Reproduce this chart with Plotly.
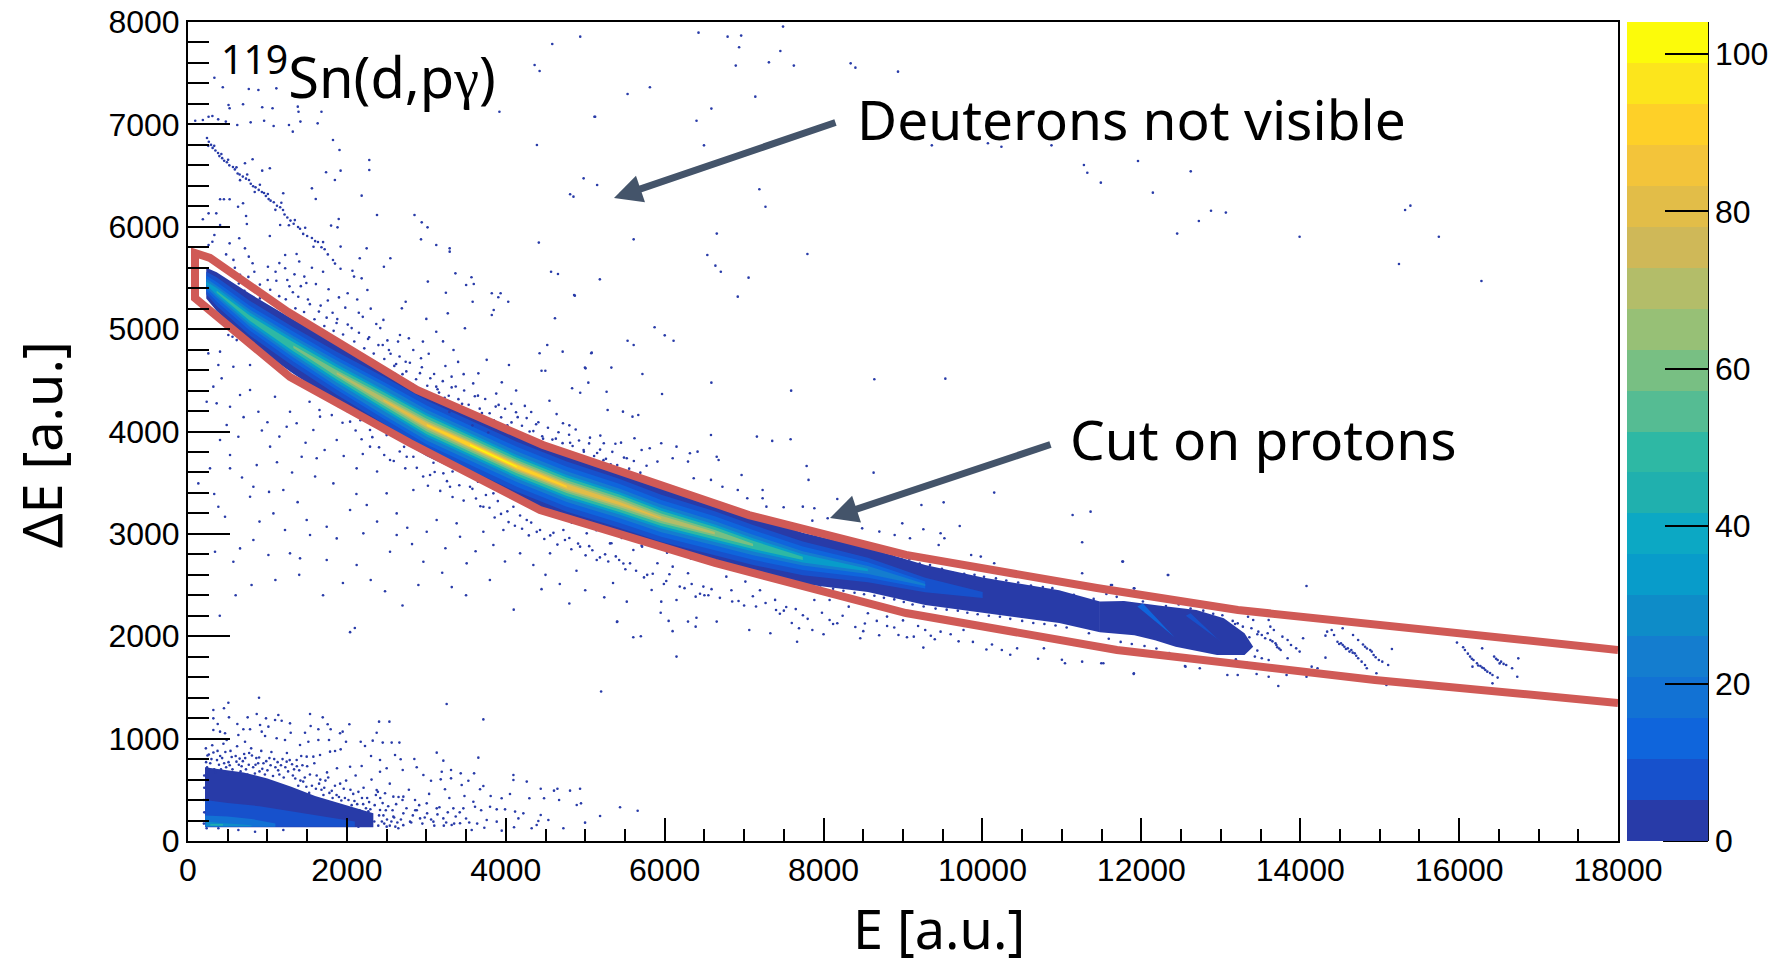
import plotly.graph_objects as go

# ---- palette (20 colour levels of the z scale)
bird = ["#283ba8","#1751cc","#0f65dc","#1272d4","#147dcf","#0e8cc8","#089cca","#0ca8c4","#20b0ae","#2eb8a4",
        "#55bc93","#78bf83","#97c076","#b3bd69","#cfb858","#e2bd48","#f3c43a","#fed028","#fce51c","#fcfb0a"]
z_max = 104.06
z_ticks = [0, 20, 40, 60, 80, 100]

# ---- proton cut polygon
cut_E  = [18000,13216,11441,9037,7061,5815,4468,2882,1259,277,88,88,1284,2794,4431,6633,9037,11693,14940,18000]
cut_dE = [1866,2256,2471,2794,3184,3507,3868,4405,5167,5695,5744,5304,4532,3888,3233,2716,2227,1866,1573,1348]

# ---- proton band: ridge and half-widths of each colour level
ridge_E  = [230,361,781,1326,1872,2459,3005,3550,4138,4767,5427,5957,6631,7113,7739,8558,9280,10003,10966,11479]
ridge_dE = [5450,5366,5105,4828,4568,4307,4063,3868,3656,3461,3299,3152,3006,2892,2761,2647,2501,2403,2289,2190]
hw_dark   = [150,190,240,265,285,300,305,310,315,320,315,310,300,285,250,215,195,170,160,150]
hw_blue1  = [110,140,170,190,210,230,240,240,245,245,240,230,215,195,165,120,70,30,0,0]
hw_blue2  = [75,95,120,145,160,180,190,190,195,195,190,180,165,145,115,75,35,0,0,0]
hw_blue3  = [45,60,85,105,125,145,150,150,150,150,145,135,120,100,70,40,10,0,0,0]
hw_blue4  = [15,35,55,75,90,105,115,115,115,115,110,100,85,65,40,12,0,0,0,0]
hw_teal   = [0,10,25,45,60,78,90,90,90,90,85,75,60,40,15,0,0,0,0,0]
hw_green  = [0,0,0,12,30,50,62,65,65,62,58,48,32,12,0,0,0,0,0,0]
hw_lgreen = [0,0,0,0,10,26,40,45,45,42,36,26,12,0,0,0,0,0,0,0]
hw_khaki  = [0,0,0,0,0,8,22,30,30,25,16,6,0,0,0,0,0,0,0,0]
hw_orange = [0,0,0,0,0,0,10,20,18,10,0,0,0,0,0,0,0,0,0,0]
hw_yellow = [0,0,0,0,0,0,0,8,5,0,0,0,0,0,0,0,0,0,0,0]
band_levels = [(hw_dark,bird[0]),(hw_blue1,bird[1]),(hw_blue2,bird[2]),(hw_blue3,bird[4]),(hw_blue4,bird[6]),
               (hw_teal,bird[9]),(hw_green,bird[11]),(hw_lgreen,bird[13]),(hw_khaki,bird[15]),(hw_orange,bird[17]),(hw_yellow,bird[19])]

# ---- end of the band, E > 11479
tail_E  = [11479,11782,12216,12693,13039,13299,13408,13299,12953,12432,12172,11912,11479]
tail_dE = [2340,2345,2300,2257,2175,2029,1898,1817,1817,1898,1960,2010,2040]
streak_E  = [11950,12020,12330,12420,11950]
streak_dE = [2290,2320,2060,1990,2290]
streak2_E  = [12560,12620,12950,13020,12560]
streak2_dE = [2200,2225,1980,1940,2200]

# ---- low-energy blob
blob_E0 = [214,400,700,1000,1300,1600,2000,2333]
blob_T0 = [720,700,670,610,530,440,350,270]
blob_E1 = [214,500,900,1300,1700,2100]
blob_T1 = [400,370,340,290,235,190]
blob_E2 = [214,500,800,1100]
blob_T2 = [250,240,215,170]
blob_E3 = [230,400,600,800]
blob_T3 = [190,175,165,155]
blob_E4 = [280,440]
blob_T4 = [165,165]
blob_levels = [(blob_E0,blob_T0,134,bird[0]),(blob_E1,blob_T1,138,bird[1]),(blob_E2,blob_T2,140,bird[3]),
               (blob_E3,blob_T3,145,bird[5]),(blob_E4,blob_T4,150,bird[8])]

# ---- individual counts
sparse_top = [(4937,7857),(6426,7896),(6792,7857),(6963,7867),(7490,7955),(6937,7753),(7456,7717),(6895,7574),(7312,7606),
 (7626,7574),(8341,7596),(8401,7554),(8937,7515),(5814,7362),(5533,7297),(7141,7271),(6588,7154),(5116,7075),(6401,7036),
 (6495,6795),(9363,6795),(10069,6815),(10239,6782),(10869,6795),(11277,6603),(11958,6642),(11320,6528),(12622,6541),
 (11490,6431),(12145,6333),(4980,6473),(5150,6408),(4810,6317),(4852,6294),(7192,6366),(7269,6196),(12877,6157),(13064,6138),
 (12724,6056),(12451,5933),(13992,5903),(15387,6206),(15320,6164),(15745,5903),(15243,5636),(16281,5470),(6656,5933),
 (5610,5877),(6537,5724),(7797,5734),(6639,5620),(6707,5561),(7056,5503),(5184,5486),(4869,5327),(6920,5317),(5873,5018),
 (6001,4939),(6112,4887),(5533,4887),(5610,4845),(4716,4780),(5082,4770),(5329,4624),(4997,4624),(5720,4562),(5039,4477),
 (6588,4477),(8639,4510),(9533,4516),(4835,4422),(5269,4389),(4937,4379),(5967,4366),(7592,4399)]

deuteron_line = [(239,6867),(262,6830),(290,6800),(310,6770),(345,6745),(378,6720),(395,6690),(430,6670),(455,6645),(490,6630),
 (520,6600),(566,6584),(590,6560),(625,6520),(650,6510),(690,6490),(730,6470),(768,6457),(790,6420),(820,6395),(850,6385),
 (890,6360),(930,6340),(957,6330),(980,6300),(1015,6270),(1040,6255),(1080,6240),(1120,6205),(1160,6190),(1196,6164),
 (1215,6120),(1250,6090),(1290,6060),(1330,6030),(1385,5998),(1410,5980),(1450,5930),(1500,5910),(1560,5890),(1600,5860),
 (1636,5851),(1680,5800),(1720,5780),(1760,5730),(1825,5675),(1850,5640),(1920,5590),(2070,5570),
 (255,6790),(330,6790),(420,6710),(505,6655),(610,6580),(655,6455),(745,6510),(840,6340),(905,6410),(1005,6320),(1100,6165),
 (1175,6235),(1270,6015),(1345,6065),(1475,5990),(1580,5805),(1700,5850)]

sparse_upper = [(4585,7785),(4363,7580),(4426,7521),(332,7456),(438,7362),(765,7346),(886,7336),(1112,7352),(510,7189),(693,7196),
 (524,7157),(934,7167),(1382,7173),(1064,7157),(1391,7124),(1680,7124),(3920,7124),(5125,7075),(91,7036),(187,7043),(259,7075),
 (307,7082),(380,7049),(476,7027),(620,6994),(789,7020),(958,7036),(1078,6984),(1271,6994),(1415,7027),(1632,7010),(1319,6929),
 (1825,6847),(1907,6750),(4392,6799),(2282,6652),(1921,6548),(2282,6554),(1738,6532),(1849,6457),(813,6659),(717,6620),(934,6548),
 (1030,6571),(1199,6327),(1560,6375),(1608,6271),(2186,6304),(404,6268),(452,6268),(524,6268),(693,6229),(630,6196),(259,6131),
 (356,6131),(187,6073),(731,6105),(741,6027),(404,6017),(2379,6115),(2851,6115),(1897,6076),(1801,6011),(1882,5994),(2942,6043),
 (3015,5994),(1160,6017),(1030,5910),(332,5919),(307,5854),(2933,5877),(3125,5822),(3294,5789),(3294,5757),(4416,5845),(1921,5806),
 (2249,5789),(524,5838),(645,5887),(717,5789),(259,5822),(1223,5724),(1367,5734),(2162,5692),(2547,5692),(2466,5610),(765,5708),
 (572,5676),(813,5643),(1006,5610),(1102,5561),(1223,5594),(1464,5513),(3366,5545),(3568,5506),(3501,5431),(3597,5441),(3019,5464),
 (2090,5513),(2186,5496),(4570,5561),(4657,5539),(2258,5382),(3246,5356),(3824,5350),(3935,5350),(3906,5311),(3583,5268),(4031,5268),
 (3848,5187),(3824,5138),(2740,5268),(2692,5203),(3270,5154),(4619,5106),(4860,5333),(2668,4943),(3125,4975),(3486,5008),(2644,4878),
 (2957,4878),(2451,4845),(2836,4796),(3342,4796),(4522,4845),(4426,4764),(5076,4764),(2933,4715),(2740,4682),(4040,4650),(5004,4617),
 (4450,4594),(4498,4594),(3655,4568),(3318,4536),(3125,4438),
 (1400,5660),(1560,5600),(1700,5560),(1250,5480),(1420,5420),(1320,5360),(1610,5440),(1770,5390),(1900,5310),(1510,5290),(1670,5230),
 (1820,5160),(1980,5210),(2130,5290),(2200,5120),(2370,5050),(2060,5010),(1870,5060),(2280,4920),(2420,5010),(2510,4890),(2550,4760),
 (2620,4660),(2700,4560),(2920,4570),(2810,4460),(3050,4520),(3160,4380),(3230,4330),(3370,4440),(3450,4270),(3520,4210),(3650,4350),
 (3700,4180),(3850,4110),(3910,4260),(4020,4060),(4150,4140),(4240,4250),(4300,4000),(4410,4090),(4550,4300),(4630,3930),(4720,4080),
 (4810,3890),(4880,4020),(4980,3820),(5060,3940),(5150,3790),(5230,3720),(3000,5100),(3210,4880),(3400,4680),(3760,4700),(3950,4480),
 (4130,4400),(2880,4390),(3090,4290),(3290,4190),(3580,4060),(3780,3990),(4470,3930),(5320,3680),(5420,3640),
 (1035,5385),(1112,5472),(1148,5322),(1231,5291),(1277,5418),(1352,5203),(1388,5316),(1461,5168),(1534,5244),(1592,5097),(1648,5171),
 (1716,5031),(1745,5112),(1833,4983),(1879,5098),(1952,4947),(2011,5044),(2093,4879),(2152,4965),(2219,4812),(2266,4903),(2338,4761),
 (2397,4844),(2471,4708),(2529,4796),(2597,4641),(2663,4732),(2748,4587),(2793,4671),(2871,4511),(2944,4627),(3012,4447),(3098,4561),
 (3141,4412),(3207,4492),(3282,4349),(3319,4431),(3404,4316),(3476,4401),(3533,4262),(3611,4345),(3672,4223),(3741,4318),(3797,4178),
 (3873,4243),(3942,4138),(3991,4222),(4072,4089),(4129,4188),(4204,4056),(4263,4131),(4347,4004),(4382,4071),(4459,3954),(4531,4037),
 (4587,3921),(4663,3992),(4715,3886),(4797,3968),(4841,3859),(4922,3912),(4983,3802),(5049,3884),(5112,3761),(5187,3823),(5261,3733),
 (5341,3801),(5403,3672),(5488,3745),(5553,3637),(5612,3712),(5694,3598),(5772,3665),
 (760,5510),(835,5560),(905,5435),(1003,5480),(710,5375),(655,5530),(590,5600),(480,5730),(420,5640),(940,5330),(1075,5260),(1180,5205),
 (1150,5645),(1340,5535),(1490,5450),(1760,5280),(2010,5350),(2150,5160),(2300,5200),(2460,5090),(2780,4910),(3030,4760),(3240,4640),
 (3470,4560),(3590,4470),(3880,4370),(4070,4270),(4320,4190),(4640,4170),(4800,4060),(5190,3960),(5380,3880),(5710,3820)]

sparse_lower = [(256,4763),(403,4780),(508,4942),(613,4893),(781,4649),(571,4633),(382,4649),(319,4438),(424,4519),(655,4356),(781,4405),
 (235,4291),(361,4275),(529,4242),(886,4193),(1095,4340),(1284,4193),(1368,4080),(1662,4145),(487,4063),(403,3917),(634,3949),(529,3770),
 (865,3672),(1033,3852),(1242,4047),(1578,4014),(1620,3738),(1431,3754),(1872,3917),(2040,4096),(2291,4014),(2291,3852),(2123,3640),
 (2543,3721),(2753,3754),(2837,3754),(1830,3493),(1200,3428),(823,3461),(529,3640),(277,3640),(130,3493),(466,3168),(382,3265),(781,3363),
 (1075,3200),(1494,3135),(1221,3038),(1746,3070),(2040,3233),(2250,3282),(2501,3396),(2627,3200),(2837,3428),(3047,3575),(3214,3591),
 (3298,3461),(3550,3461),(3844,3396),(4096,3265),(3130,3135),(3382,3103),(3718,3265),(4264,3135),(4431,3038),(4725,3038),(5019,3005),
 (5312,2907),(5606,2842),(3970,3038),(3718,3021),(3424,2972),(3005,3021),(2627,2989),(2207,3005),(1872,2956),(1536,2989),(1284,2810),
 (823,2940),(655,2858),(340,2826),(571,2728),(1012,2793),(1410,2761),(1746,2745),(2123,2696),(2543,2826),(2963,2728),(3508,2712),
 (3844,2891),(4180,2810),(4557,2810),(4347,2696),(4935,2875),(5145,2745),(5564,2712),
 (2040,2040),(2100,2080),(2700,2300),(2300,2550),(2900,2500),(3200,2620),(3500,2400),(3800,2550),(4100,2260),(4500,2600),(4800,2320),
 (5000,2450),(5350,2520),(5400,2140),(6050,2150),(6100,2050),(6400,2180),(6500,2400),(7000,2300),(7200,2450),(7500,2250),(7600,2130),
 (8000,2020),(8500,2050),(8800,2100),(5200,1460),(1400,2600),(1100,2550),(800,2500),(600,2400),(400,2200),(1700,2400),(5700,2000),
 (5330,2908),(5716,2875),(5427,2745),(5909,2713),(6101,2680),(6294,2615),(6487,2485),(6776,2582),(7016,2534),(6390,2387),(5836,2452),
 (5523,2338),(5957,2338),(6149,2354),(6294,2143),(6390,2094),(6655,2143),(5403,2143),(5605,1990),(6149,1801),(7065,2061),(7330,2029),
 (7402,2257),(7691,2078),(7859,2061),(7667,1947),(8076,2159),(8173,2127),(8462,1980),(8076,2354),(7884,2354),(8317,2289),(8558,2224),
 (8799,2192),(9136,2192),(9280,2061),(8943,2012),(9136,1996),(9256,1889),(9473,2045),(9762,2061),(10244,1866),(10437,1882),(10774,1882),
 (11039,1736),(11255,1752),(11496,1736),(11906,1638),(12556,1703),
 (3580,3440),(3750,3380),(3900,3320),(4020,3220),(4180,3180),(4320,3110),(4600,3010),(4800,2960),(5050,2880),(5250,2800),(5480,2710),
 (5780,2600),(6020,2540),(6250,2470),(6550,2400),(6850,2340),(7150,2290),(7450,2220),(7800,2170),(8120,2120),(8400,2090),(8700,2010),
 (9050,1990),(9400,1970),(9700,1950),(10050,1870),(10350,1820),(10700,1780),(11000,1770),
 (1530,4290),(1655,4210),(1710,4330),(1810,4160),(1945,4085),(2012,4195),(2110,4010),(2185,3925),(2320,3945),(2405,3845),(2470,3770),
 (2590,3712),(2665,3805),(2735,3640),(2880,3645),(2960,3560),(3020,3470),(3105,3605),(3175,3420),(3260,3515),(3330,3360),(3415,3475),
 (3470,3325),(3625,3345),(3680,3270),(3795,3255),(3860,3160),(3940,3195),(4035,3115),(4115,3080),(4205,3050),(4290,2985),(4390,3020),
 (4485,2950),(4560,2985),(4650,2895),(4745,2940),(4825,2850),(4910,2905),(5005,2790),(5090,2840),(5185,2770),(5290,2730),(5385,2780),
 (5505,2655),(5640,2640),(5740,2575),(5850,2610),(5990,2510),(6060,2605),(6190,2485),(6340,2510),(6445,2415),(6590,2460),(6695,2375),
 (6840,2450),(6930,2345),(7110,2390),(7270,2325),(7390,2355),(7530,2285),(7650,2265),(7740,2205),(7980,2230),(8240,2200),(8520,2125),
 (8670,2150),(8890,2085),(9000,2155),(9190,2100),(9350,2005),(9600,2020),(9880,1945),(10120,1920),
 (1000,4090),(1150,3950),(700,4140),(930,4010),(1120,3700),(1310,3600),(1480,3890),(1720,3820),(1960,3760),(2200,3780),(2380,3610),
 (1600,3560),(1380,3310),(1020,3410),(680,3550),(330,3390),(900,3120),(2120,3390),(2380,3120),(2760,3060),(2820,2900),(3240,2860),
 (3620,2830),(3990,2730),(4450,2460),(4680,2510),(4890,2640),(5240,2380),(3320,2480),(1950,2520),(2480,2440),(5950,2230)]

# flecks hugging the dark edge of the band, inside the cut
edge_upper = [(640,5445),(905,5300),(1115,5215),(1420,5055),(1660,4965),(1985,4815),(2240,4705),(2610,4560),(2830,4455),(3180,4300),
 (3390,4225),(3710,4125),(3980,4035),(4280,3935),(4550,3850),(4900,3745),(5210,3660),(5550,3585),(5780,3510),(6140,3425),(6420,3350),
 (6790,3270),(7020,3215),(7350,3115),(7620,3050),(7900,2985),(8210,2925),(8450,2885),(8720,2830),(8980,2755),(9210,2710),(9490,2660),
 (9770,2610),(10020,2580),(10300,2545),(10610,2495),(10880,2470),(11150,2405),(11400,2365),(7210,3175),(7480,3095),(7780,3025),
 (8060,2945),(8330,2910),(8610,2850),(8860,2790),(9080,2750),(9340,2695),(9620,2625),(9900,2600),(10170,2565),(10450,2525),(10760,2480)]
edge_lower = [(560,4925),(830,4800),(1060,4655),(1380,4510),(1620,4370),(1900,4245),(2170,4110),(2500,3965),(2720,3850),(3090,3695),
 (3330,3610),(3650,3510),(3890,3440),(4220,3295),(4480,3210),(4830,3110),(5140,3035),(5460,2960),(5710,2885),(6030,2815),(6330,2760),
 (6680,2690),(6960,2635),(7280,2565),(7560,2525),(7820,2490),(8120,2465),(8390,2425),(8640,2395),(8890,2360),(9120,2310),(9410,2270),
 (9690,2250),(9940,2215),(10220,2190),(10500,2150),(10780,2120),(11060,2085),(11340,2030),(7150,2600),(7410,2535),(7690,2500),(7960,2475),
 (8250,2445),(8510,2410),(8760,2375),(9010,2335),(9260,2290),(9550,2260),(9810,2230),(10080,2200),(10350,2170),(10640,2130),(10920,2105)]

sparse_right_upper = [(5282,4210),(5475,4194),(5595,4145),(5668,4161),(5620,3934),(6583,3966),(7161,3950),(7354,3908),(7585,3924),(5234,3885),
 (5451,3891),(5812,3836),(5957,3885),(6149,3852),(6318,3787),(6414,3803),(6655,3754),(5523,3738),(5909,3706),(6101,3738),(6294,3706),
 (6679,3722),(7787,3663),(7811,3527),(6968,3575),(6366,3543),(6583,3527),(6727,3461),(7233,3429),(6920,3429),(7040,3348),(7233,3348),
 (7281,3266),(7498,3260),(7739,3266),(7884,3250),(8173,3341),(8630,3598),(10148,3403),(9232,3282),(9512,3308),(8052,3152),(7859,3129),
 (8991,3103),(9256,3045),(9714,3077),(8486,3054),(8702,3022),(8895,2989),(9088,2957),(9473,3006),(9521,2957),(9449,2892),(9858,2794),
 (9979,2778),(10148,2713),(11135,3185),(11361,3217),(11255,2918),(11761,2729),(11255,2615),(12339,2599),(11617,2501),(11906,2468)]

sparse_blob = [(319,1280),(453,1296),(508,1351),(894,1400),(3256,1338),(3718,1188),(319,1198),(516,1208),(751,1208),(865,1241),(982,1198),
 (1137,1231),(1096,1182),(1179,1175),(1536,1241),(1696,1208),(1284,1149),(907,1133),(374,1143),(621,1143),(1012,1117),(1544,1123),(1758,1140),
 (2031,1140),(2405,1166),(2535,1166),(1641,1091),(1796,1091),(697,1091),(781,1091),(928,1068),(1293,1058),(1473,1058),(1914,1052),(1947,1068),
 (2375,1058),(970,1026),(319,1084),(403,1068),(466,1052),(634,1035),(1515,970),(1641,987),(1775,987),(1989,970),(2174,970),(2228,928),(2325,980),
 (2451,961),(2564,961),(2661,961),(1221,987),(1410,938),(1116,1003),(718,970),(487,987),(1922,895),(3131,863),(2606,840),(2304,830),(3655,814),
 (2849,801),(2677,798),(2417,791),(3214,785),(1851,879),(1788,873),(1662,840),(1578,824),(1494,824),(1368,791),(1242,775),(2040,726),(2186,733),
 (2501,710),(2879,720),(3311,694),(3194,677),(3601,661),(3433,661),(4096,645),(4096,596),(4264,580),(2417,677),(2703,694),(2963,645),(3059,589),
 (3181,602),(3311,612),(3529,589),(3718,537),(3445,547),(3676,505),(4440,511),(4650,511),(4935,511),(4809,492),(4607,492),(3235,505),(4053,459),
 (3810,440),(3948,417),(4482,417),(4297,417),(4671,400),(4893,352),(4947,368),(5438,329),(5660,296),(5187,244),(4440,254),(4221,270),(4117,287),
 (4536,205),(4410,195),(4159,221),(4104,134),(4389,156),(4326,124),(4725,124),(4998,179),(3949,101),(3991,309),(3886,309),(3802,335),(3613,335),
 (3592,384),(3466,319),(3340,319),(3131,319),(3005,368),(2858,400),(2711,433),(2585,433),(2480,466),(2375,498),(2417,303),(2585,238),(2711,270),
 (2795,189),(2921,221),(3089,189),(3214,221),(3319,156),(3424,173),(3571,107),(3760,205),(3886,189),(2501,140),(2648,124),(2145,140),(1200,107),
 (844,91),(634,107),(235,124),(382,124),
 (240,720),(280,760),(330,700),(390,745),(430,810),(480,720),(510,770),(560,700),(600,830),(640,745),(690,780),(730,700),(770,860),(820,720),
 (860,810),(900,680),(950,760),(1000,690),(1050,870),(1100,720),(1150,650),(1190,800),(1260,680),(1310,750),(1350,610),(1400,690),(1450,580),
 (1500,730),(1560,540),(1620,640),(1680,500),(1730,590),(1780,470),(1850,540),(1900,430),(1960,510),(2020,400),(2080,460),(2130,360),(2190,420),
 (2240,320),(2280,380),(2350,350),(2420,420),(2460,250),(2520,340),(2560,190),(2620,360),(2680,210),(2750,320),(2830,250),(2880,300),(2950,170),
 (3010,270),(3060,210),(3140,260),(3250,180),(3270,280),(3370,240),(3500,220),(3640,170),
 (225,905),(262,845),(305,935),(348,670),(372,880),(415,700),(446,950),(495,655),(535,880),(585,660),(618,925),(662,680),(707,850),(748,650),
 (795,905),(842,660),(883,760),(922,880),(968,650),(1025,810),(1070,635),(1128,770),(1205,620),(1245,860),(1335,700),(1388,540),(1425,830),
 (1470,620),(1525,470),(1590,760),(1650,560),(1705,450),(1750,670),(1820,420),(1875,710),(1930,395),(1990,590),(2060,350),(2110,640),(2160,300),
 (2210,520),(2270,290),(2310,600),(2390,480),(2440,190),(2490,300),(2540,560),(2595,230),(2650,430),(2710,155),(2780,500),(2810,180),(2860,300),
 (2910,350),(2980,230),(3035,460),(3100,150),(3165,330),(3220,150),(3290,420),(3350,170),(3420,280),(3480,440),(3540,180),(3690,300),(3730,130),
 (228,770),(245,835),(295,800),(320,865),(365,790),(405,830),(455,760),(470,870),(525,740),(550,820),(610,775),(650,805),(675,730),(720,810),
 (765,745),(805,835),(850,745),(895,815),(935,705),(985,780),(1040,740),(1085,800),(1135,690),(1170,740),(1225,720),(1280,790),(1320,640),
 (1370,730),(1415,590),(1440,740),(1490,530),(1535,650),(1610,510),(1665,600),(1715,520),(1765,620),(1810,490),(1870,450),(1915,560),(1975,420),
 (2045,500),(2095,390),(2145,480),(2205,360),(2255,420),(2295,310),(2365,450),(2405,250),(2450,370),(2505,210),(2575,300),(2635,180),(2700,400),
 (205,640),(205,520),(200,400),(205,280),(200,170),(2345,190),(2395,150),(2470,170),(2540,150),(2610,140)]

sparse_tail = [(13473,2045),(13516,2012),(13559,1980),(13603,2159),(13624,2094),(13668,2061),(13624,1964),(13689,1931),(13711,1892),(13754,1866),
 (13776,1996),(13841,1964),(13884,1915),(13949,1882),(13993,1850),(13429,1801),(13516,1785),(13603,1768),(13841,1785),(13343,2191),(13213,2126),
 (13408,2159),(13278,2094),(13386,2078),(13460,2020),(13590,2030),(13650,1950),(13700,1915),(13735,1880),
 (14339,2045),(14426,2012),(14469,1947),(14513,1931),(14556,1898),(14599,1882),(14643,1866),(14686,1833),(14729,1785),(14773,1752),(14816,1719),
 (14838,1687),(14318,2006),(14396,2061),(14534,2078),(14490,1925),(14535,1915),(14575,1875),(14620,1850),(14660,1840),(14705,1810),
 (14665,2012),(14729,1964),(14816,1898),(14881,1866),(14924,1817),(14990,1768),(15033,1752),(15154,1876),(15107,1719),(14959,1638),(15085,1524),
 (14790,1920),(14840,1880),(14900,1850),(14950,1795),
 (15973,1938),(16051,1892),(16073,1866),(16138,1801),(16181,1768),(16225,1736),(16268,1709),(16311,1687),(16355,1654),(16420,1622),(16485,1596),
 (16420,1540),(16290,1882),(16168,1703),(16110,1830),(16160,1780),(16240,1715),(16290,1695),(16330,1670),(16390,1640),
 (16441,1801),(16485,1768),(16528,1752),(16593,1719),(16667,1687),(16745,1784),(16732,1605),(16465,1780),(16510,1735),(16560,1730),
 (14079,2491),(12333,2598),(11769,2729),(11631,2501),(11912,2468),(11522,1736),(11904,1631),(12549,1710),(12736,1687),(13083,1622),(13213,1622),
 (13451,1631),(13603,1605),(13724,1514),(14079,1605),(13828,1622),(14318,1791),(14036,1980),(14218,1687),(14144,1703),
 (11560,2412),(11690,2385),(11850,2402),(12020,2340),(12160,2365),(12310,2295),(12470,2310),(12620,2270),(12780,2250),(12905,2220),(13020,2205),
 (13150,2150),(11590,1975),(11740,1945),(11880,1925),(12040,1905),(12190,1880),(12350,1835),(12500,1810),(12640,1790),(12790,1745),(12930,1770),
 (13060,1755),(13190,1775),(13330,1740),(13460,1860),(13180,2120),(13360,1990)]

dot_groups = [sparse_top, deuteron_line, sparse_upper, sparse_lower, edge_upper, edge_lower, sparse_right_upper, sparse_blob, sparse_tail]

# ---- text
x_title = "E [a.u.]"
y_title = "ΔE [a.u.]"
reaction = "<sup>119</sup>Sn(d,p<span style='font-family:\"Liberation Serif\"'>γ</span>)"
note_deuterons = "Deuterons not visible"
note_protons = "Cut on protons"
ink = "#44546a"
cut_color = "#d05a56"
text_font = "Noto Sans"
tick_font = "Liberation Sans"

fig = go.Figure()

def fill(xs, ys, color):
    fig.add_trace(go.Scatter(x=xs, y=ys, mode="lines", fill="toself", fillcolor=color,
                             line=dict(width=0, color=color), hoverinfo="skip", showlegend=False))

# band layers: only the stations where a level is present
for hw, color in band_levels:
    keep = [i for i, w in enumerate(hw) if w > 0]
    xs = [ridge_E[i] for i in keep]
    up = [ridge_dE[i] + hw[i] for i in keep]
    lo = [ridge_dE[i] - hw[i] for i in keep]
    fill(xs + xs[::-1], up + lo[::-1], color)
fill(tail_E, tail_dE, bird[0])
fill(streak_E, streak_dE, bird[2])
fill(streak2_E, streak2_dE, bird[1])

# blob layers
for xs, tops, floor, color in blob_levels:
    fill(xs + xs[::-1], tops + [floor] * len(xs), color)

# individual counts, carrying the colour bar
pts = [p for g in dot_groups for p in g]
stops = []
for i, c in enumerate(bird):
    stops += [[i / 20, c], [(i + 1) / 20, c]]
fig.add_trace(go.Scatter(
    x=[p[0] for p in pts], y=[p[1] for p in pts], mode="markers", showlegend=False,
    marker=dict(size=2.6, color=[1] * len(pts), cmin=0, cmax=z_max, colorscale=stops, showscale=True,
                line=dict(width=0),
                colorbar=dict(thickness=81, thicknessmode="pixels", len=819, lenmode="pixels",
                              x=1.0063, xanchor="left", xref="paper", y=0, yanchor="bottom", yref="paper", ypad=0, xpad=0,
                              outlinewidth=0, tickvals=z_ticks, ticks="inside", ticklen=43, tickwidth=2,
                              tickcolor="black", ticklabelposition="outside",
                              tickfont=dict(family=tick_font, size=32, color="black")))))

# proton cut
fig.add_trace(go.Scatter(x=cut_E, y=cut_dE, mode="lines", line=dict(color=cut_color, width=8),
                         hoverinfo="skip", showlegend=False))

# the page adds an 8 px body margin, so the figure is 8 px smaller than the window
fig.update_layout(
    width=1772, height=951, margin=dict(l=180, r=162, t=14, b=118, autoexpand=False),
    paper_bgcolor="white", plot_bgcolor="white", showlegend=False,
    xaxis=dict(range=[0, 18000], dtick=2000, tickformat="d", showgrid=False, zeroline=False, ticks="inside", ticklen=23,
               tickwidth=2, tickcolor="black", showline=True, linecolor="black", linewidth=2, mirror=True,
               ticklabeloverflow="allow",
               minor=dict(dtick=500, ticks="inside", ticklen=12, tickwidth=2, tickcolor="black", showgrid=False),
               tickfont=dict(family=tick_font, size=32, color="black")),
    yaxis=dict(range=[0, 8000], dtick=1000, tickformat="d", showgrid=False, zeroline=False, ticks="inside", ticklen=42,
               tickwidth=2, tickcolor="black", showline=True, linecolor="black", linewidth=2, mirror=True,
               ticklabeloverflow="allow",
               minor=dict(dtick=200, ticks="inside", ticklen=21, tickwidth=2, tickcolor="black", showgrid=False),
               tickfont=dict(family=tick_font, size=32, color="black")),
    annotations=[
        dict(x=9453, y=0, xref="x", yref="paper", yshift=-87, text=x_title, showarrow=False, yanchor="middle",
             font=dict(family=text_font, size=54, color="black")),
        dict(x=0, y=0.4835, xref="paper", yref="paper", xshift=-147, text=y_title, showarrow=False, textangle=-90,
             xanchor="center", font=dict(family=text_font, size=54, color="black")),
        dict(x=2140, y=7500, xref="x", yref="y", text=reaction, showarrow=False,
             font=dict(family=text_font, size=56, color="black")),
        dict(x=11870, y=7060, xref="x", yref="y", text=note_deuterons, showarrow=False,
             font=dict(family=text_font, size=55, color="black")),
        dict(x=11075, y=3930, xref="x", yref="y", text=note_protons, showarrow=False, xanchor="left",
             font=dict(family=text_font, size=55, color="black")),
        dict(x=5362, y=6281, ax=8169, ay=7023, xref="x", yref="y", axref="x", ayref="y", text="", showarrow=True,
             arrowhead=2, arrowsize=0.8, arrowwidth=7, arrowcolor=ink),
        dict(x=8081, y=3155, ax=10875, ay=3878, xref="x", yref="y", axref="x", ayref="y", text="", showarrow=True,
             arrowhead=2, arrowsize=0.8, arrowwidth=7, arrowcolor=ink),
    ],
    shapes=[dict(type="line", xref="paper", yref="paper", x0=1.0629, x1=1.0629, y0=0, y1=1,
                 line=dict(color="black", width=2)),
            dict(type="line", xref="paper", yref="paper", x0=1.0315, x1=1.0629, y0=0, y1=0,
                 line=dict(color="black", width=2))],
)
fig.write_html("out.html")
